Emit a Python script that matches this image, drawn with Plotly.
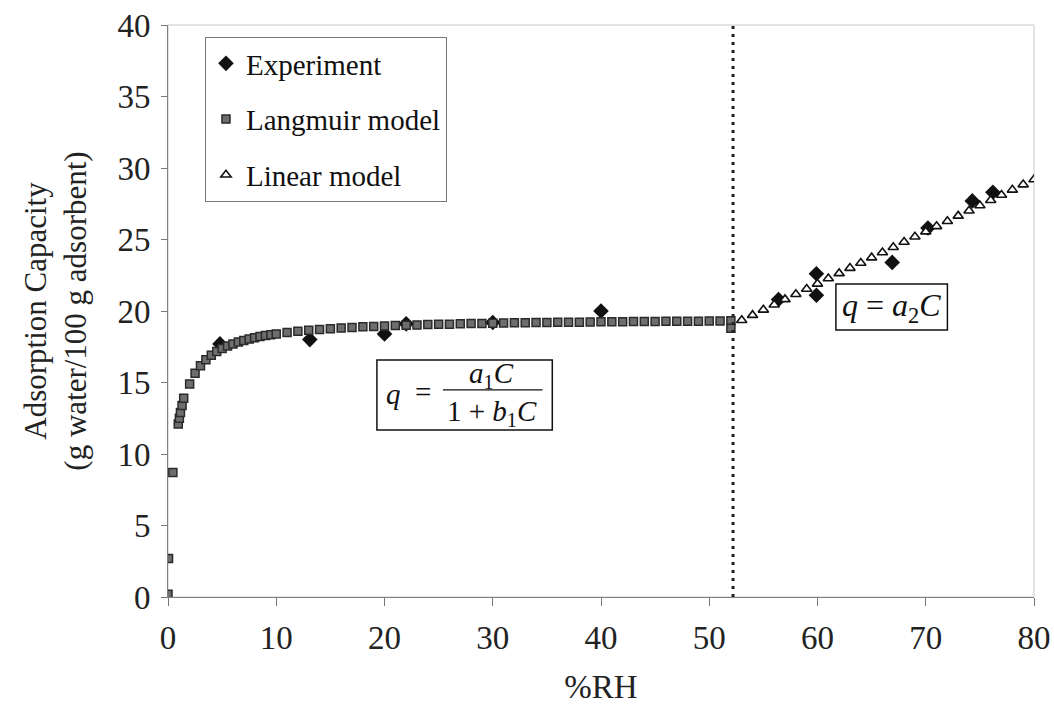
import plotly.graph_objects as go

# ---------------- data ----------------
exp_x = [4.8, 13.1, 20.0, 22.0, 30.0, 40.0, 56.4, 59.9, 59.9, 66.9, 70.2, 74.3, 76.2]
exp_y = [17.7, 18.0, 18.4, 19.1, 19.2, 20.0, 20.8, 22.6, 21.1, 23.4, 25.8, 27.7, 28.3]

lang_x = [0.0, 0.05, 0.45, 0.95, 1.05, 1.15, 1.3, 1.45,
          2.0, 2.5, 3.0, 3.5, 4.0, 4.5, 5.0, 5.5, 6.0, 6.5, 7.0, 7.5, 8.0, 8.5, 9.0, 9.5, 10.0,
          11, 12, 13, 14, 15, 16, 17, 18, 19, 20, 21, 22, 23, 24, 25, 26, 27, 28, 29, 30,
          31, 32, 33, 34, 35, 36, 37, 38, 39, 40, 41, 42, 43, 44, 45, 46, 47, 48, 49, 50,
          51, 52, 52]
lang_y = [0.2, 2.7, 8.7, 12.1, 12.5, 12.9, 13.4, 13.9,
          14.9, 15.65, 16.18, 16.59, 16.91, 17.17, 17.38, 17.55, 17.70, 17.83, 17.94, 18.04,
          18.13, 18.21, 18.28, 18.34, 18.40,
          18.49, 18.58, 18.65, 18.71, 18.76, 18.81, 18.85, 18.89, 18.92, 18.95, 18.98, 19.00,
          19.02, 19.05, 19.07, 19.08, 19.10, 19.12, 19.13, 19.14, 19.16, 19.17, 19.18, 19.19,
          19.20, 19.21, 19.22, 19.22, 19.23, 19.24, 19.25, 19.25, 19.26, 19.27, 19.27, 19.28,
          19.28, 19.29, 19.29, 19.30, 19.30, 19.31, 18.8]

lin_x = [53, 54, 55, 56, 57, 58, 59, 60, 61, 62, 63, 64, 65, 66, 67, 68, 69, 70,
         71, 72, 73, 74, 75, 76, 77, 78, 79, 80]
lin_y = [19.35, 19.71, 20.08, 20.44, 20.81, 21.17, 21.54, 21.90, 22.27, 22.63, 23.00,
         23.36, 23.73, 24.09, 24.46, 24.82, 25.19, 25.55, 25.92, 26.28, 26.65, 27.01,
         27.38, 27.74, 28.11, 28.47, 28.84, 29.20]

x_ticks = [0, 10, 20, 30, 40, 50, 60, 70, 80]
y_ticks = [0, 5, 10, 15, 20, 25, 30, 35, 40]
boundary_rh = 52.2

FONT = "Liberation Serif"
TXT = "#222222"

fig = go.Figure()
fig.add_trace(go.Scatter(
    x=exp_x, y=exp_y, mode="markers", name="Experiment", legendgroup="a",
    marker=dict(symbol="diamond", size=12, color="#111111", line=dict(width=0))))
fig.add_trace(go.Scatter(
    x=lang_x, y=lang_y, mode="markers", name="Langmuir model", legendgroup="b",
    marker=dict(symbol="square", size=8, color="#6e6e6e", line=dict(width=1.5, color="#2a2a2a"))))
fig.add_trace(go.Scatter(
    x=lin_x, y=lin_y, mode="markers", name="Linear model", legendgroup="c",
    marker=dict(symbol="triangle-up", size=9, color="white", line=dict(width=1.6, color="#111111"))))

shapes = [
    dict(type="rect", xref="paper", yref="paper", x0=0, x1=1, y0=0, y1=1,
         line=dict(color="#c8c8c8", width=1), layer="below"),
    dict(type="line", xref="x", yref="y", x0=boundary_rh, x1=boundary_rh, y0=0, y1=40,
         line=dict(color="#222222", width=3, dash="3px,5px")),
    dict(type="rect", xref="x", yref="y", x0=19.3, x1=35.5, y0=11.68, y1=16.57,
         line=dict(color="#111111", width=1.5), fillcolor="white"),
    dict(type="line", xref="x", yref="y", x0=25.4, x1=34.6, y0=14.48, y1=14.48,
         line=dict(color="#111111", width=1.2)),
    dict(type="rect", xref="x", yref="y", x0=61.7, x1=72.0, y0=18.67, y1=21.89,
         line=dict(color="#111111", width=1.5), fillcolor="white"),
]

eqf = dict(family=FONT, size=29, color="#111111")
annotations = [
    dict(x=20.8, y=14.2, xref="x", yref="y", text="<i>q</i>", showarrow=False, font=eqf),
    dict(x=23.6, y=14.35, xref="x", yref="y", text="=", showarrow=False, font=eqf),
    dict(x=29.9, y=15.55, xref="x", yref="y", text="<i>a</i><sub>1</sub><i>C</i>",
         showarrow=False, font=eqf),
    dict(x=29.9, y=12.85, xref="x", yref="y", text="1 + <i>b</i><sub>1</sub><i>C</i>",
         showarrow=False, font=eqf),
    dict(x=66.85, y=20.25, xref="x", yref="y", text="<i>q</i> = <i>a</i><sub>2</sub><i>C</i>",
         showarrow=False, font=dict(family=FONT, size=32, color="#111111")),
]

fig.update_layout(
    width=1054, height=706,
    margin=dict(l=168, r=20, t=25, b=109),
    paper_bgcolor="white", plot_bgcolor="white",
    font=dict(family=FONT, size=31, color=TXT),
    shapes=shapes, annotations=annotations,
    showlegend=True,
    legend=dict(x=0.0427, y=0.979, xanchor="left", yanchor="top",
                bgcolor="white", bordercolor="#777777", borderwidth=1,
                font=dict(family=FONT, size=29, color="#111111"),
                traceorder="grouped", tracegroupgap=15, itemsizing="trace"),
)
fig.update_xaxes(range=[0, 80], tickvals=x_ticks, ticks="outside", ticklen=8,
                 ticklabelstandoff=3, automargin=False,
                 tickfont=dict(family=FONT, size=33, color=TXT),
                 tickcolor="#777777", showline=True, linecolor="#808080", linewidth=1,
                 showgrid=False, zeroline=False,
                 title=dict(text="%RH", font=dict(family=FONT, size=33, color=TXT), standoff=20))
fig.update_yaxes(range=[0, 40], tickvals=y_ticks, ticks="outside", ticklen=6,
                 ticklabelstandoff=4, automargin=False,
                 tickfont=dict(family=FONT, size=33, color=TXT),
                 tickcolor="#777777", showline=True, linecolor="#808080", linewidth=1,
                 showgrid=False, zeroline=False,
                 title=dict(text="Adsorption Capacity<br>(g water/100 g adsorbent)",
                            font=dict(family=FONT, size=31, color=TXT), standoff=21))

fig.write_html("out.html")
